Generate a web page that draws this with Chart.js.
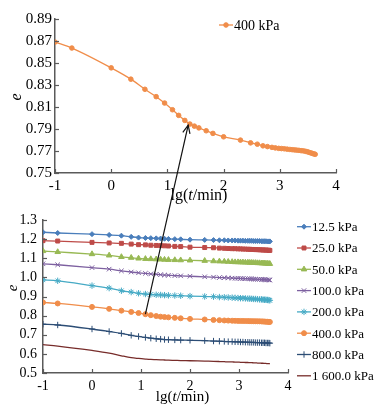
<!DOCTYPE html>
<html><head><meta charset="utf-8">
<script src="https://cdn.jsdelivr.net/npm/chart.js@4"></script>
<style>
html,body{margin:0;padding:0;background:#fff;width:388px;height:417px;overflow:hidden;}
canvas{position:absolute;left:0;}
#topc{top:0}
#botc{top:205px}
#ov{top:0;pointer-events:none}
</style></head><body>
<canvas id="topc" width="388" height="210"></canvas>
<canvas id="botc" width="388" height="212"></canvas>
<canvas id="ov" width="388" height="417"></canvas>
<script>
// ---- data (lg(t/min) and void ratio e) ----
const lgT = [-1, -0.7, 0, 0.35, 0.6, 0.8, 0.95, 1.09, 1.2, 1.31, 1.4, 1.48, 1.56, 1.69, 1.81, 2.0, 2.3, 2.48, 2.6, 2.7, 2.78,
  2.86, 2.92, 2.98, 3.03, 3.08, 3.13, 3.18, 3.22, 3.26, 3.3, 3.34, 3.38, 3.42, 3.46, 3.49, 3.52, 3.55, 3.58, 3.61, 3.63];
const e12_5 = [1.236,1.232,1.226,1.222,1.218,1.212,1.208,1.206,1.205,1.204,1.203,1.202,1.201,1.200,1.199,1.197,1.196,1.195,1.194,1.194,1.193,
  1.193,1.193,1.192,1.192,1.192,1.191,1.191,1.191,1.191,1.190,1.190,1.190,1.190,1.189,1.189,1.189,1.189,1.188,1.188,1.188];
const e25 = [1.192,1.190,1.183,1.180,1.178,1.174,1.171,1.170,1.168,1.167,1.166,1.165,1.164,1.162,1.161,1.158,1.156,1.155,1.153,1.152,1.151,
  1.150,1.150,1.149,1.149,1.148,1.148,1.147,1.147,1.146,1.146,1.145,1.145,1.144,1.144,1.143,1.143,1.143,1.142,1.142,1.141];
const e50 = [1.138,1.133,1.122,1.115,1.107,1.103,1.099,1.097,1.096,1.095,1.094,1.093,1.092,1.091,1.090,1.089,1.087,1.085,1.084,1.083,1.082,
  1.081,1.080,1.080,1.079,1.079,1.078,1.078,1.077,1.077,1.076,1.076,1.075,1.075,1.074,1.074,1.073,1.073,1.072,1.071,1.071];
const e100 = [1.071,1.066,1.051,1.043,1.034,1.028,1.024,1.021,1.018,1.016,1.014,1.012,1.011,1.009,1.008,1.006,1.003,1.001,0.999,0.998,0.997,
  0.996,0.995,0.995,0.994,0.994,0.993,0.993,0.992,0.992,0.991,0.991,0.990,0.990,0.989,0.989,0.988,0.988,0.987,0.987,0.986];
const e200 = [0.987,0.982,0.957,0.944,0.930,0.923,0.917,0.913,0.911,0.909,0.908,0.907,0.906,0.905,0.904,0.902,0.900,0.899,0.897,0.896,0.895,
  0.894,0.893,0.892,0.891,0.891,0.890,0.889,0.889,0.888,0.887,0.887,0.886,0.885,0.885,0.884,0.883,0.883,0.882,0.881,0.880];
const e400 = [0.869,0.8636,0.8456,0.8353,0.8261,0.8194,0.8136,0.8075,0.8024,0.7978,0.7945,0.7926,0.791,0.7884,0.786,0.7829,0.7799,0.7774,0.7762,0.7747,0.774,
  0.7733,0.7728,0.7724,0.7722,0.772,0.7717,0.7714,0.7712,0.771,0.7708,0.7706,0.7703,0.7701,0.7697,0.7693,0.7688,0.7683,0.7678,0.7673,0.767];
const e800 = [0.755,0.751,0.730,0.717,0.707,0.697,0.691,0.686,0.682,0.679,0.677,0.675,0.674,0.673,0.672,0.671,0.669,0.667,0.666,0.665,0.664,
  0.664,0.663,0.663,0.662,0.662,0.661,0.661,0.660,0.660,0.660,0.659,0.659,0.659,0.658,0.658,0.658,0.657,0.657,0.657,0.656];
const e1600 = [0.648,0.641,0.618,0.604,0.590,0.580,0.576,0.573,0.571,0.570,0.569,0.568,0.567,0.566,0.565,0.564,0.562,0.561,0.560,0.559,0.558,
  0.558,0.557,0.557,0.556,0.556,0.555,0.555,0.554,0.554,0.553,0.553,0.552,0.552,0.551,0.551,0.550,0.550,0.549,0.549,0.548];
const seriesLabels = ['12.5 kPa','25.0 kPa','50.0 kPa','100.0 kPa','200.0 kPa','400.0 kPa','800.0 kPa','1 600.0 kPa'];
const topLabel = '400 kPa';
const topYTicks = {min:0.75, max:0.89, step:0.02};
const botYTicks = {min:0.5, max:1.3, step:0.1};
const xRange = {min:-1, max:4, step:1};
// arrow: from the 12.25-min point of 400 kPa (bottom) to the top curve
const arrowFromIndex = 7;
const arrowTo = {x:1.37, y:0.7935};

const SERIF = '"Liberation Serif","Times New Roman",serif';
const AX = '#5a5a5a';

function pts(ys){ return lgT.map((x,i)=>({x:x, y:ys[i]})); }

const decor = {
  id:'decor',
  afterDraw(chart, args, o){
    const ctx = chart.ctx, ca = chart.chartArea;
    const sx = chart.scales.x, sy = chart.scales.y;
    ctx.save();
    // inward tick marks
    ctx.strokeStyle = AX; ctx.lineWidth = 1.2;
    sx.ticks.forEach(t=>{ const px = Math.round(sx.getPixelForValue(t.value))+0.5;
      ctx.beginPath(); ctx.moveTo(px, ca.bottom); ctx.lineTo(px, ca.bottom-4); ctx.stroke(); });
    sy.ticks.forEach(t=>{ const py = Math.round(sy.getPixelForValue(t.value))+0.5;
      ctx.beginPath(); ctx.moveTo(ca.left, py); ctx.lineTo(ca.left+4, py); ctx.stroke(); });
    // y title
    ctx.fillStyle = '#000';
    ctx.font = 'italic ' + o.titleSize + 'px ' + SERIF;
    ctx.textAlign = 'center'; ctx.textBaseline = 'middle';
    ctx.save(); ctx.translate(o.yTitle.x, o.yTitle.y); ctx.rotate(-Math.PI/2); ctx.fillText('e', 0, 0); ctx.restore();
    // x title lg(t/min)
    const parts = [['lg(', ''], ['t', 'italic '], ['/min)', '']];
    let w = 0;
    parts.forEach(p=>{ ctx.font = p[1] + o.titleSize + 'px ' + SERIF; w += ctx.measureText(p[0]).width; });
    let x = (ca.left+ca.right)/2 + o.xTitle.dx - w/2;
    ctx.textAlign = 'left';
    parts.forEach(p=>{ ctx.font = p[1] + o.titleSize + 'px ' + SERIF; ctx.fillText(p[0], x, ca.bottom + o.xTitle.dy); x += ctx.measureText(p[0]).width; });
    // legend
    const L = o.legend;
    ctx.font = L.size + 'px ' + SERIF;
    ctx.textBaseline = 'middle';
    chart.data.datasets.forEach((ds,i)=>{
      const lx = (L.anchor==='right' ? ca.right : ca.left) + L.dx;
      const ly = ca.top + L.dy + i*L.gap;
      ctx.strokeStyle = ds.borderColor; ctx.lineWidth = ds.borderWidth;
      ctx.beginPath(); ctx.moveTo(lx, ly); ctx.lineTo(lx+L.len, ly); ctx.stroke();
      if (ds.pointRadius > 0 && Chart.helpers && Chart.helpers.drawPoint) {
        ctx.fillStyle = ds.pointBackgroundColor; ctx.strokeStyle = ds.pointBorderColor; ctx.lineWidth = ds.pointBorderWidth;
        Chart.helpers.drawPoint(ctx, {pointStyle: ds.pointStyle, radius: ds.pointRadius, borderWidth: ds.pointBorderWidth, rotation:0}, lx+L.len/2, ly);
      }
      ctx.fillStyle = '#000';
      ctx.fillText(ds.label, lx+L.len+1, ly+1);
    });
    ctx.restore();
  }
};

function scales(yr, tickSize, ypad, xpad, yw, xh, dec){
  return {
    x:{type:'linear', min:xRange.min, max:xRange.max,
       ticks:{stepSize:xRange.step, color:'#000', font:{family:SERIF, size:tickSize}, padding:xpad, maxRotation:0, autoSkip:false,
              callback:v=>String(v)},
       grid:{display:false, drawTicks:false}, border:{display:true, color:AX, width:1.5},
       afterFit:s=>{ s.height = xh; }},
    y:{type:'linear', min:yr.min, max:yr.max,
       ticks:{stepSize:yr.step, color:'#000', font:{family:SERIF, size:tickSize}, padding:ypad, autoSkip:false,
              callback:v=>v.toFixed(dec)},
       grid:{display:false, drawTicks:false}, border:{display:true, color:AX, width:1.5},
       afterFit:s=>{ s.width = yw; }}
  };
}

function ds(label, ys, color, style, r){
  return {label:label, data:pts(ys), borderColor:color, backgroundColor:color, borderWidth:1.3,
    pointStyle:style, pointRadius:r, pointHoverRadius:r, pointBackgroundColor:color, pointBorderColor:color, pointBorderWidth:1,
    cubicInterpolationMode:'monotone', fill:false};
}

const ORANGE = '#F08D4A';
const topChart = new Chart(document.getElementById('topc'), {
  type:'line',
  data:{datasets:[ds(topLabel, e400, ORANGE, 'circle', 2.3)]},
  options:{responsive:false, animation:false, devicePixelRatio:1,
    layout:{padding:{top:19, right:52, left:0, bottom:0}},
    scales:scales(topYTicks, 15, 3, 4, 55, 37, 2),
    plugins:{legend:{display:false}, tooltip:{enabled:false},
      decor:{titleSize:16, yTitle:{x:17, y:97}, xTitle:{dx:3.5, dy:23},
        legend:{anchor:'left', dx:164, dy:6, gap:0, len:14, size:14}}}},
  plugins:[decor]
});

const botSets = [
  ds(seriesLabels[0], e12_5, '#4A7EBB', 'rectRot', 2.5),
  ds(seriesLabels[1], e25, '#BE4B48', 'rect', 2.8),
  ds(seriesLabels[2], e50, '#98B954', 'triangle', 3.2),
  ds(seriesLabels[3], e100, '#7D60A0', 'crossRot', 3.2),
  ds(seriesLabels[4], e200, '#46AAC5', 'star', 3.2),
  ds(seriesLabels[5], e400, ORANGE, 'circle', 2.5),
  ds(seriesLabels[6], e800, '#2C4D75', 'cross', 3.2),
  ds(seriesLabels[7], e1600, '#772C2A', 'circle', 0)
];
const botChart = new Chart(document.getElementById('botc'), {
  type:'line',
  data:{datasets:botSets},
  options:{responsive:false, animation:false, devicePixelRatio:1,
    layout:{padding:{top:15, right:100, left:0, bottom:0}},
    scales:scales(botYTicks, 14, 6, 5, 43, 44, 1),
    plugins:{legend:{display:false}, tooltip:{enabled:false},
      decor:{titleSize:15, yTitle:{x:13, y:83}, xTitle:{dx:17, dy:24},
        legend:{anchor:'right', dx:9, dy:6.7, gap:21.3, len:14, size:13}}}},
  plugins:[decor]
});

// arrow overlay
(function(){
  const c = document.getElementById('ov').getContext('2d');
  const off = 205;
  const x1 = botChart.scales.x.getPixelForValue(lgT[arrowFromIndex]);
  const y1 = botChart.scales.y.getPixelForValue(e400[arrowFromIndex]) + off;
  const x2 = topChart.scales.x.getPixelForValue(arrowTo.x);
  const y2 = topChart.scales.y.getPixelForValue(arrowTo.y);
  c.strokeStyle = '#111'; c.lineWidth = 1.2;
  c.beginPath(); c.moveTo(x1, y1); c.lineTo(x2, y2); c.stroke();
  const ang = Math.atan2(y2-y1, x2-x1), L = 9, a = 0.42;
  c.beginPath();
  c.moveTo(x2 - L*Math.cos(ang-a), y2 - L*Math.sin(ang-a));
  c.lineTo(x2, y2);
  c.lineTo(x2 - L*Math.cos(ang+a), y2 - L*Math.sin(ang+a));
  c.stroke();
})();
</script>
</body></html>
